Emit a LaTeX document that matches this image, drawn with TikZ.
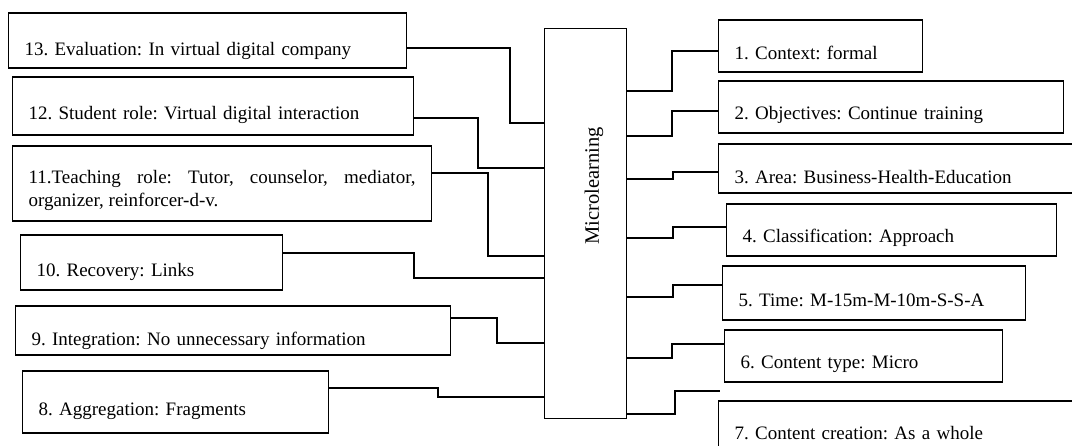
\documentclass[tikz,border=0pt]{standalone}
\usepackage{fontspec}
\setmainfont{Liberation Serif}
\frenchspacing
\tikzset{
  box/.style={draw, line width=1.1pt, anchor=base west, inner xsep=16pt, inner ysep=0pt,
    align=left, font=\fontsize{19}{23}\selectfont},
  link/.style={line width=1.1pt},
}
\begin{document}
\begin{tikzpicture}[x=1pt, y=-1pt]
  \useasboundingbox (0,0) rectangle (1072,445);
  \clip (0,0) rectangle (1072,445);
  \node[draw, line width=1.1pt, minimum width=82pt, minimum height=390pt, anchor=north west] (mic) at (544,28) {};
  \node[rotate=90, font=\fontsize{20.5}{24}\selectfont] (miclbl) at (594,186) {Microlearning};
  % left
  \node[box, text width=366pt, text height=42pt, text depth=13pt] (b13) at (8,55) {13. Evaluation: In virtual digital company};
  \node[box, text width=369pt, text height=42pt, text depth=16pt] (b12) at (12,119) {12. Student role: Virtual digital interaction};
  \node[box, text width=387pt, text height=37pt, text depth=38pt, align=justify] (b11) at (12,183) {11.Teaching role: Tutor, counselor, mediator,\linebreak organizer, reinforcer-d-v.};
  \node[box, text width=230pt, text height=41pt, text depth=14pt] (b10) at (20,276) {10. Recovery: Links};
  \node[box, text width=403pt, text height=39pt, text depth=10pt] (b9) at (15,345) {9. Integration: No unnecessary information};
  \node[box, text width=274pt, text height=44pt, text depth=18pt] (b8) at (22,415) {8. Aggregation: Fragments};
  % right
  \node[box, text width=172pt, text height=39pt, text depth=13pt] (b1) at (718,59) {1. Context: formal};
  \node[box, text width=313pt, text height=38pt, text depth=14pt] (b2) at (718,119) {2. Objectives: Continue training};
  \node[box, text width=340pt, text height=39pt, text depth=10pt] (b3) at (718,183) {3. Area: Business-Health-Education};
  \node[box, text width=298pt, text height=38pt, text depth=14pt] (b4) at (726,242) {4. Classification: Approach};
  \node[box, text width=271pt, text height=40pt, text depth=14pt] (b5) at (722,306) {5. Time: M-15m-M-10m-S-S-A};
  \node[box, text width=246pt, text height=38pt, text depth=14pt] (b6) at (724,368) {6. Content type: Micro};
  \node[box, text width=340pt, text height=38pt, text depth=31pt] (b7) at (718,439) {7. Content creation: As a whole};
  \coordinate (c7) at (720,391);
  \begin{scope}[link]
    \draw (b13.east |- 0,48) -| (510,123) -- (mic.west |- 0,123);
    \draw (b12.east |- 0,118) -| (478,168) -- (mic.west |- 0,168);
    \draw (b11.east |- 0,173) -| (488,256) -- (mic.west |- 0,256);
    \draw (b10.east |- 0,253) -| (414,278) -- (mic.west |- 0,278);
    \draw (b9.east |- 0,318) -| (497,343) -- (mic.west |- 0,343);
    \draw (b8.east |- 0,388) -| (438,397) -- (mic.west |- 0,397);
    \draw (mic.east |- 0,91) -| (672,51) -- (b1.west |- 0,51);
    \draw (mic.east |- 0,136) -| (672,111) -- (b2.west |- 0,111);
    \draw (mic.east |- 0,179) -| (673,172) -- (b3.west |- 0,172);
    \draw (mic.east |- 0,238) -| (673,227) -- (b4.west |- 0,227);
    \draw (mic.east |- 0,297) -| (673,285) -- (b5.west |- 0,285);
    \draw (mic.east |- 0,358) -| (672,344) -- (b6.west |- 0,344);
    \draw (mic.east |- 0,414) -| (675,391) -- (c7);
  \end{scope}
\end{tikzpicture}
\end{document}
